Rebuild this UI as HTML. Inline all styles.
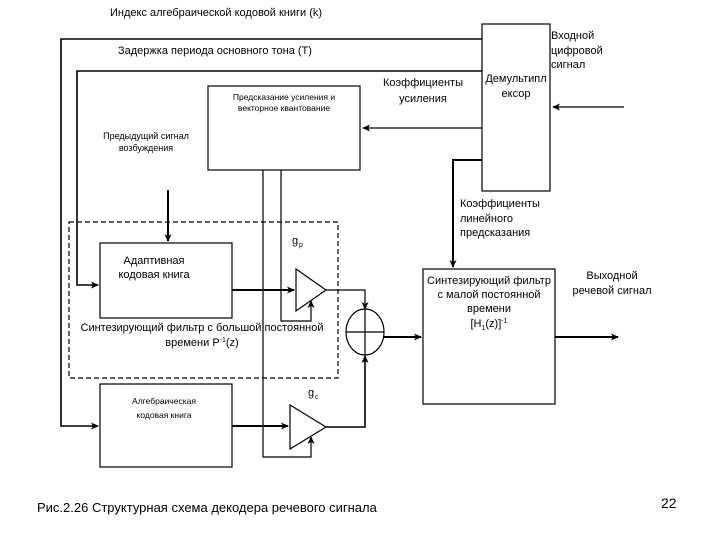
<!DOCTYPE html>
<html><head><meta charset="utf-8"><style>
html,body{margin:0;padding:0;background:#fff;}
svg{display:block;}
text{font-family:"Liberation Sans",sans-serif;fill:#000;}
</style></head><body>
<svg width="720" height="540" viewBox="0 0 720 540" xmlns="http://www.w3.org/2000/svg">
<defs>
<marker id="a" markerWidth="8" markerHeight="8" refX="7" refY="4" orient="auto" markerUnits="userSpaceOnUse">
<path d="M0,0.5 L8,4 L0,7.5 L2,4 Z" fill="#000"/>
</marker>
</defs>
<g stroke="#000" fill="none" stroke-width="1.2">
<polyline points="482,39 61,39 61,426 98,426" marker-end="url(#a)" stroke-width="1.6"/>
<polyline points="482,71 77,71 77,285 98,285" marker-end="url(#a)" stroke-width="1.6"/>
<rect x="208" y="86" width="152" height="84" fill="#fff"/>
<line x1="482" y1="128" x2="363" y2="128" marker-end="url(#a)"/>
<rect x="482" y="24" width="68" height="167" fill="#fff"/>
<line x1="624" y1="107" x2="553" y2="107" marker-end="url(#a)"/>
<polyline points="482,160 453,160 453,267" stroke-width="2" marker-end="url(#a)"/>
<line x1="168" y1="190" x2="168" y2="241" stroke-width="2" marker-end="url(#a)"/>
<rect x="69" y="222" width="269" height="156" stroke-dasharray="5,3"/>
<rect x="100" y="243" width="132" height="75" fill="#fff"/>
<rect x="100" y="384" width="132" height="83" fill="#fff"/>
<polygon points="296,269 326,290 296,311" fill="#fff"/>
<polygon points="290,405 326,427 290,449" fill="#fff"/>
<line x1="232" y1="290" x2="294" y2="290" stroke-width="2" marker-end="url(#a)"/>
<line x1="232" y1="426" x2="288" y2="426" stroke-width="2" marker-end="url(#a)"/>
<polyline points="281,170 281,321 311,321 311,301" marker-end="url(#a)"/>
<polyline points="263,170 263,457 311,457 311,437" marker-end="url(#a)"/>
<polyline points="326,290 365,290 365,309" marker-end="url(#a)"/>
<polyline points="326,427 365,427 365,356" stroke-width="1.6" marker-end="url(#a)"/>
<ellipse cx="365" cy="332" rx="19" ry="23" fill="#fff"/>
<line x1="346" y1="332" x2="384" y2="332"/>
<line x1="365" y1="309" x2="365" y2="355"/>
<line x1="384" y1="337" x2="421" y2="337" stroke-width="2" marker-end="url(#a)"/>
<rect x="423" y="269" width="132" height="135" fill="#fff"/>
<line x1="555" y1="337" x2="618" y2="337" stroke-width="2" marker-end="url(#a)"/>
</g>
<text x="110" y="16" font-size="11">Индекс алгебраической кодовой книги (k)</text>
<text x="118" y="54" font-size="11">Задержка периода основного тона (T)</text>
<text x="284" y="100" font-size="8.5" text-anchor="middle">Предсказание усиления и</text>
<text x="284" y="111" font-size="8.5" text-anchor="middle">векторное квантование</text>
<text x="146" y="139" font-size="9" text-anchor="middle">Предыдущий сигнал</text>
<text x="146" y="151" font-size="9" text-anchor="middle">возбуждения</text>
<text x="423" y="86" font-size="11" text-anchor="middle">Коэффициенты</text>
<text x="423" y="102" font-size="11" text-anchor="middle">усиления</text>
<text x="516" y="82" font-size="11" text-anchor="middle">Демультипл</text>
<text x="516" y="97" font-size="11" text-anchor="middle">ексор</text>
<text x="551" y="39" font-size="11">Входной</text>
<text x="551" y="54" font-size="11">цифровой</text>
<text x="551" y="68" font-size="11">сигнал</text>
<text x="460" y="207" font-size="11">Коэффициенты</text>
<text x="460" y="222" font-size="11">линейного</text>
<text x="460" y="236" font-size="11">предсказания</text>
<text x="292" y="244" font-size="11">g</text><text x="299" y="247" font-size="7">p</text>
<text x="308" y="396" font-size="11">g</text><text x="315" y="399" font-size="7">c</text>
<text x="154" y="264" font-size="11" text-anchor="middle">Адаптивная</text>
<text x="154" y="278" font-size="11" text-anchor="middle">кодовая книга</text>
<text x="202" y="331" font-size="11" text-anchor="middle">Синтезирующий фильтр с большой постоянной</text>
<text x="202" y="346" font-size="11" text-anchor="middle">времени P<tspan font-size="7" dy="-4">-1</tspan><tspan dy="4">(z)</tspan></text>
<text x="164" y="404" font-size="8.5" text-anchor="middle">Алгебраическая</text>
<text x="164" y="418" font-size="8.5" text-anchor="middle">кодовая книга</text>
<text x="489" y="284" font-size="11" text-anchor="middle">Синтезирующий фильтр</text>
<text x="489" y="298" font-size="11" text-anchor="middle">с малой постоянной</text>
<text x="489" y="312" font-size="11" text-anchor="middle">времени</text>
<text x="489" y="327" font-size="11" text-anchor="middle">[H<tspan font-size="7" dy="3">1</tspan><tspan dy="-3">(z)]</tspan><tspan font-size="7" dy="-4">-1</tspan></text>
<text x="612" y="279" font-size="11" text-anchor="middle">Выходной</text>
<text x="612" y="294" font-size="11" text-anchor="middle">речевой сигнал</text>
<text x="37" y="512" font-size="13">Рис.2.26 Структурная схема декодера речевого сигнала</text>
<text x="661" y="508" font-size="14">22</text>
</svg>
</body></html>
